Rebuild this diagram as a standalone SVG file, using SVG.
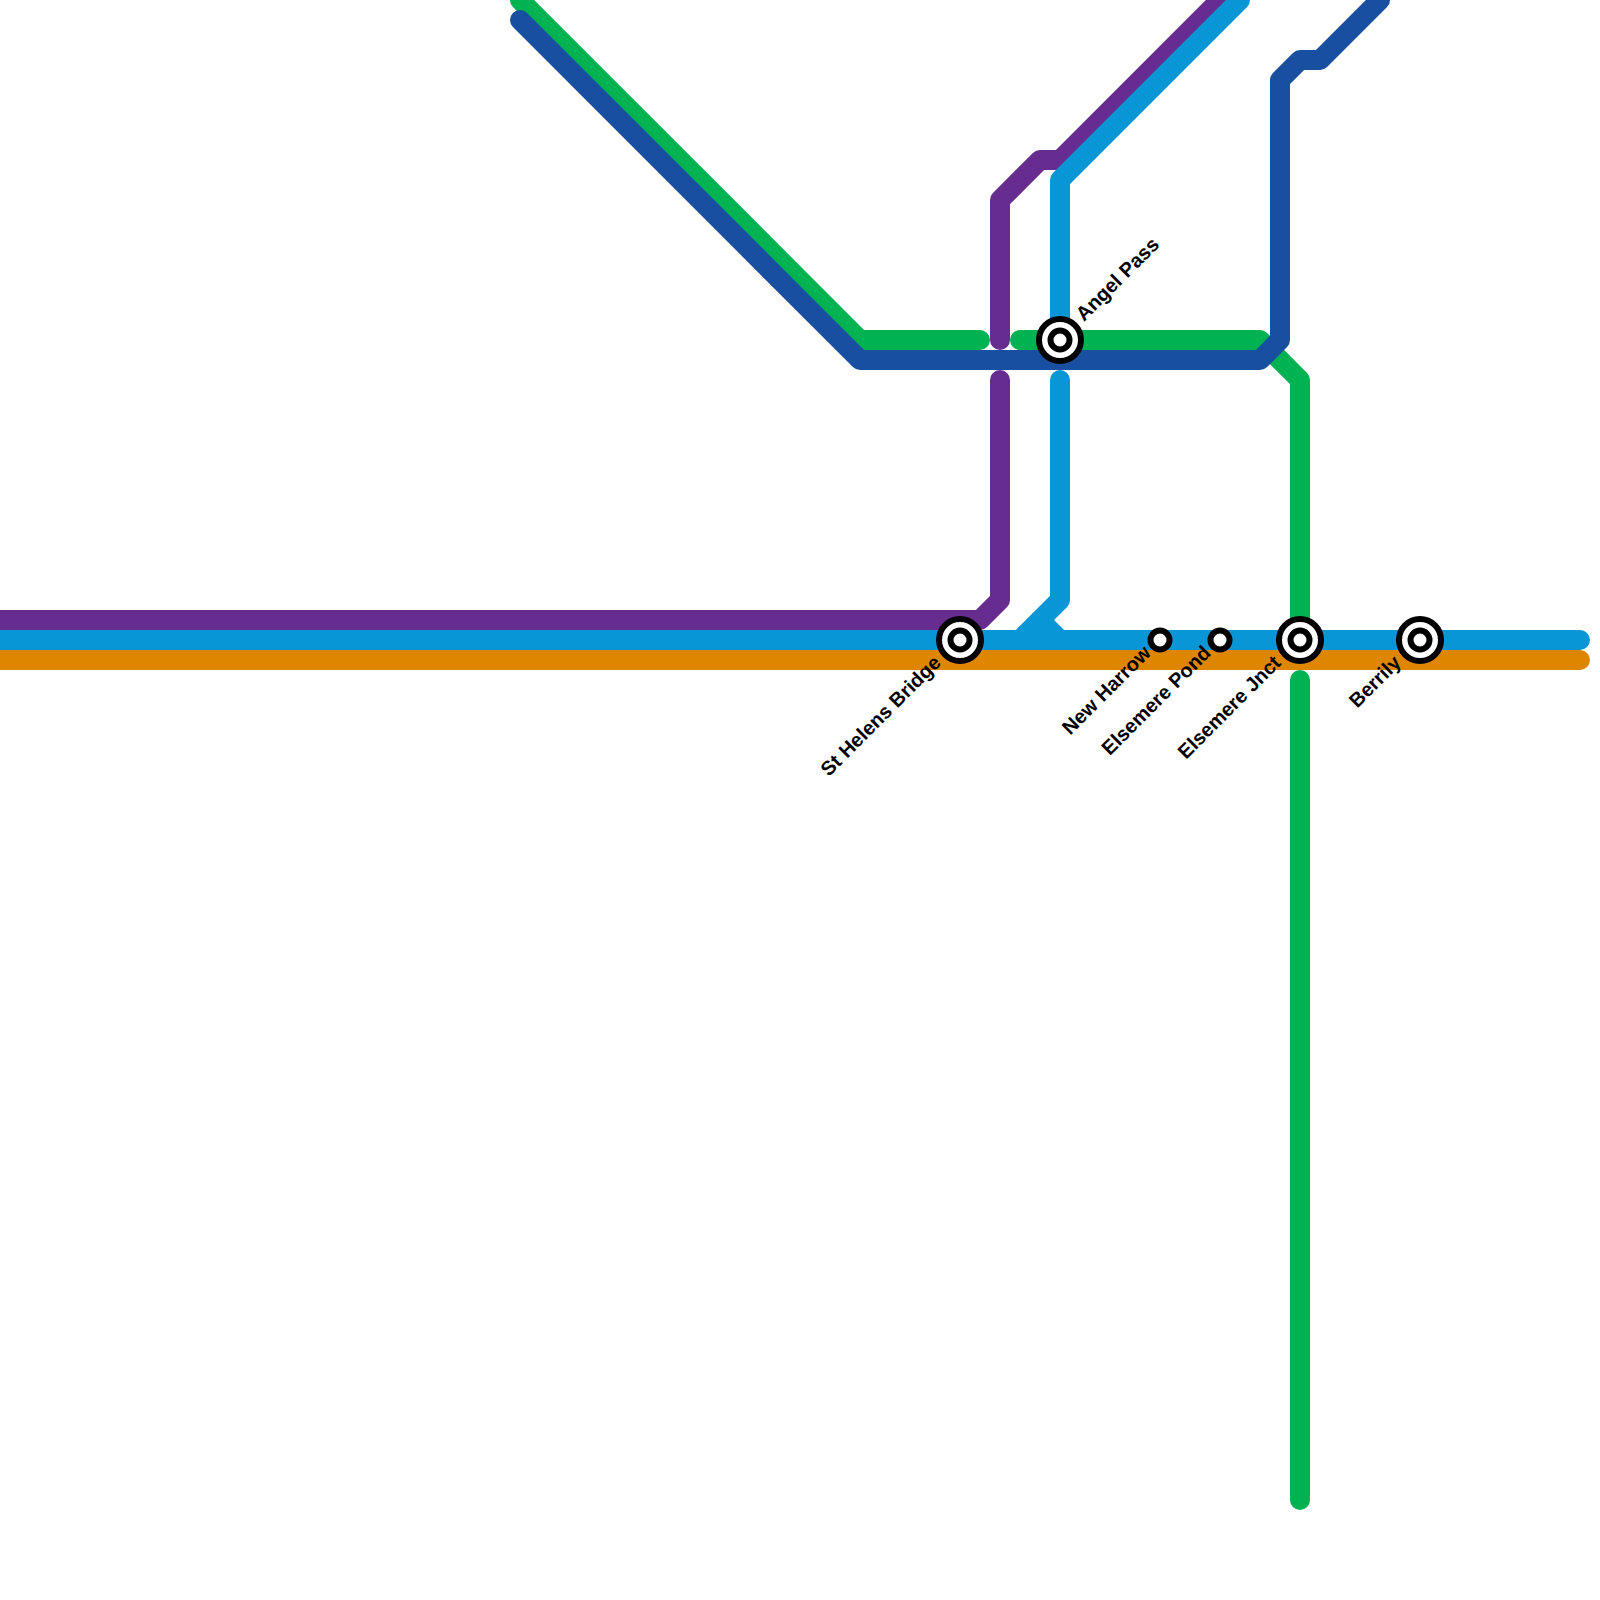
<svg xmlns="http://www.w3.org/2000/svg" width="1600" height="1600" viewBox="0 0 1600 1600">
<style>
.l{fill:none;stroke-width:20;stroke-linecap:round;stroke-linejoin:round}
.g{stroke:#00b251}.b{stroke:#194fa0}.p{stroke:#662c90}.c{stroke:#0896d7}.o{stroke:#df8600}
.s{fill:#fff;stroke:#000;stroke-width:6}
text{font-family:"Liberation Sans",Arial,sans-serif;font-weight:700;font-size:20px;fill:#000}
.e{text-anchor:end}
</style>
<rect width="1600" height="1600" fill="#fff"/>
<g id="connectors">
<path class="l o" d="M-20 660H1580"/>
<path class="l p" d="M-20 620H980L1000 600V380"/>
<path class="l p" d="M1000 340V200L1040 160H1060L1240 -20"/>
<path class="l c" d="M-20 640H1580"/>
<path class="l c" d="M1060 380V600L1020 640"/>
<path class="l c" d="M1040 620L1060 640"/>
<path class="l c" d="M1060 340V180L1240 0"/>
<path class="l g" d="M520 0L860 340H980"/>
<path class="l g" d="M1020 340H1260L1300 380V640"/>
<path class="l g" d="M1300 680V1500"/>
<path class="l b" d="M520 20L860 360H1260L1280 340V80L1300 60H1320L1380 0"/>
</g>
<g id="st-helens-bridge"><circle class="s" cx="960" cy="640" r="21"/><circle class="s" cx="960" cy="640" r="9.5"/><text class="e" transform="translate(942 664) rotate(-45)">St Helens Bridge</text></g>
<g id="angel-pass"><circle class="s" cx="1060" cy="340" r="21"/><circle class="s" cx="1060" cy="340" r="9.5"/><text transform="translate(1084 322) rotate(-45)">Angel Pass</text></g>
<g id="new-harrow"><circle class="s" cx="1160" cy="640" r="9.5"/><text class="e" transform="translate(1152 654) rotate(-45)">New Harrow</text></g>
<g id="elsemere-pond"><circle class="s" cx="1220" cy="640" r="9.5"/><text class="e" transform="translate(1212 654) rotate(-45)">Elsemere Pond</text></g>
<g id="elsemere-jnct"><circle class="s" cx="1300" cy="640" r="21"/><circle class="s" cx="1300" cy="640" r="9.5"/><text class="e" transform="translate(1282 664) rotate(-45)">Elsemere Jnct</text></g>
<g id="berrily"><circle class="s" cx="1420" cy="640" r="21"/><circle class="s" cx="1420" cy="640" r="9.5"/><text class="e" transform="translate(1402 664) rotate(-45)">Berrily</text></g>
</svg>
